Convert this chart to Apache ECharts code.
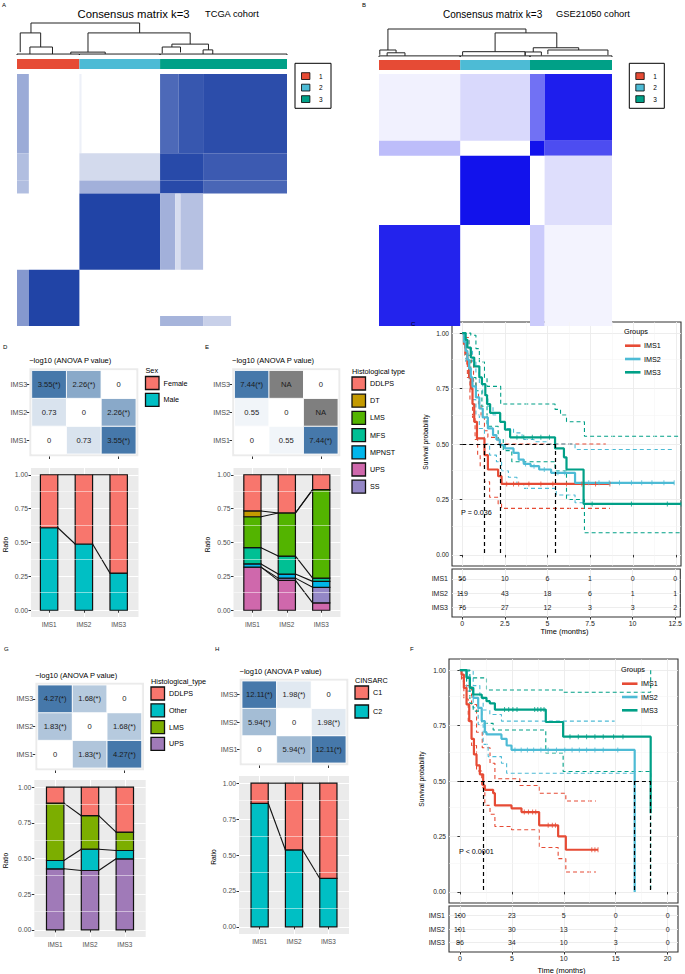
<!DOCTYPE html>
<html>
<head>
<meta charset="utf-8">
<title>Consensus clustering and immune subtypes</title>
<script src="https://cdn.jsdelivr.net/npm/echarts@6.0.0/dist/echarts.min.js"></script>
<style>
html,body{margin:0;padding:0;background:#ffffff;}
#chart{width:685px;height:974px;}
</style>
</head>
<body>
<div id="chart"></div>
<script>
// ======================= DATA =======================
const groups = ['IMS1', 'IMS2', 'IMS3'];
const groupColors = ['#E64B35', '#4DBBD5', '#00A087'];
const clusterLabels = ['1', '2', '3'];

// ---- A: TCGA consensus matrix (k = 3) ----
const tcgaSampleCount = 251;
const tcgaClusterEdges = [0, 58, 133, 251];
// [colStart, colEnd, rowStart, rowEnd, consensus]
const tcgaBlocks = [
  [0, 11, 0, 79, 0.45], [58, 60, 0, 79, 0.08], [133, 150, 0, 79, 0.8], [150, 173, 0, 79, 0.9], [173, 251, 0, 79, 0.95],
  [0, 11, 79, 106, 0.35], [58, 133, 79, 106, 0.2], [133, 173, 79, 106, 0.97], [173, 251, 79, 106, 0.88],
  [0, 11, 106, 119, 0.35], [58, 133, 106, 119, 0.42], [133, 173, 106, 119, 0.97], [173, 251, 106, 119, 0.82],
  [58, 133, 119, 195, 1.0], [133, 147, 119, 195, 0.42], [147, 152, 119, 195, 0.18], [152, 173, 119, 195, 0.33],
  [0, 11, 195, 251, 0.55], [11, 58, 195, 251, 1.0], [133, 173, 241, 251, 0.4], [173, 199, 241, 251, 0.25]
];
// [leftX, rightX, height, leftChildHeight, rightChildHeight]
const tcgaDendrogram = [
  [13, 114, 1.0, 0.69, 0.69], [3, 22, 0.69, 0.09, 0.25], [12, 33, 0.25, 0.03, 0.03],
  [66, 161, 0.69, 0.09, 0.34], [50, 82, 0.09, 0.03, 0.03], [144, 178, 0.34, 0.25, 0.16],
  [135, 152, 0.25, 0.05, 0.08], [173, 182, 0.16, 0.03, 0.03],
  [0, 58, 0.03, 0, 0], [58, 133, 0.03, 0, 0], [133, 251, 0.03, 0, 0]
];

// ---- B: GSE21050 consensus matrix (k = 3) ----
const gseSampleCount = 287;
const gseClusterEdges = [0, 100, 186, 287];
const gseBlocks = [
  [0, 100, 0, 76, 0.06], [100, 186, 0, 76, 0.16], [186, 204, 0, 76, 0.6], [204, 287, 0, 76, 0.95],
  [0, 100, 76, 93, 0.28], [186, 204, 76, 93, 1.0], [204, 287, 76, 93, 0.75],
  [100, 186, 93, 172, 1.0], [204, 287, 93, 172, 0.14],
  [0, 100, 172, 287, 0.93], [186, 204, 172, 287, 0.22], [204, 287, 172, 287, 0.05]
];
const gseDendrogram = [
  [11, 181, 1.0, 0.25, 0.86], [1, 21, 0.25, 0.08, 0.15], [10, 32, 0.15, 0.04, 0.04],
  [143, 219, 0.86, 0.19, 0.33], [103, 180, 0.19, 0.05, 0.05], [190, 246, 0.33, 0.18, 0.25],
  [180, 200, 0.18, 0.05, 0.05], [208, 282, 0.25, 0.1, 0.07],
  [0, 100, 0.04, 0, 0], [100, 186, 0.04, 0, 0], [186, 287, 0.04, 0, 0]
];

// ---- D: Sex (TCGA) ----
const sexLevels = ['Female', 'Male'];
const sexColors = ['#F8766D', '#00BFC4'];
const sexFemale = [0.391, 0.511, 0.726];
const sexMale = [0.609, 0.489, 0.274];
const sexStackOrder = ['Male', 'Female'];
const sexAnova = [[0, 0.73, 3.55], [0.73, 0, 2.26], [3.55, 2.26, 0]]; // rows IMS1..IMS3

// ---- E: Histological type (TCGA) ----
const histLevels = ['DDLPS', 'DT', 'LMS', 'MFS', 'MPNST', 'UPS', 'SS'];
const histColors = ['#F8766D', '#C49A00', '#53B400', '#00C094', '#00B6EB', '#CF68AC', '#9487C6'];
const histDDLPS = [0.267, 0.282, 0.110];
const histDT = [0.043, 0, 0];
const histLMS = [0.228, 0.318, 0.653];
const histMFS = [0.120, 0.133, 0.024];
const histMPNST = [0.024, 0.030, 0.044];
const histUPS = [0.318, 0.220, 0.054];
const histSS = [0, 0.017, 0.115];
const histStackOrder = ['UPS', 'SS', 'MPNST', 'MFS', 'LMS', 'DT', 'DDLPS'];
const histAnova = [[0, 0.55, 7.44], [0.55, 0, null], [7.44, null, 0]];

// ---- G: Histological type (GSE21050) ----
const gseHistLevels = ['DDLPS', 'Other', 'LMS', 'UPS'];
const gseHistColors = ['#F8766D', '#00BFC4', '#7CAE00', '#A07AB8'];
const gseHistDDLPS = [0.112, 0.200, 0.315];
const gseHistOther = [0.058, 0.149, 0.058];
const gseHistLMS = [0.402, 0.235, 0.129];
const gseHistUPS = [0.428, 0.416, 0.498];
const gseHistStackOrder = ['UPS', 'Other', 'LMS', 'DDLPS'];
const gseHistAnova = [[0, 1.83, 4.27], [1.83, 0, 1.68], [4.27, 1.68, 0]];

// ---- H: CINSARC (GSE21050) ----
const cinsarcLevels = ['C1', 'C2'];
const cinsarcColors = ['#F8766D', '#00BFC4'];
const cinsarcC1 = [0.140, 0.465, 0.663];
const cinsarcC2 = [0.860, 0.535, 0.337];
const cinsarcStackOrder = ['C2', 'C1'];
const cinsarcAnova = [[0, 5.94, 12.11], [5.94, 0, 1.98], [12.11, 1.98, 0]];

const ratioTicks = [0, 0.25, 0.5, 0.75, 1];
const survTicks = [0, 0.25, 0.5, 0.75, 1];

// ---- C: Kaplan-Meier, TCGA ----
const tcgaIMS1Time = [0, 0.1, 0.2, 0.3, 0.4, 0.5, 0.6, 0.7, 0.86, 1.3, 1.5, 2.1, 2.3, 8.64];
const tcgaIMS1Surv = [1, 0.95, 0.91, 0.86, 0.80, 0.75, 0.68, 0.60, 0.525, 0.45, 0.385, 0.355, 0.32, 0.32];
const tcgaIMS1UpTime = [0, 0.2, 0.4, 0.55, 0.66, 0.8, 0.95, 1.1, 1.3, 1.5, 2.1, 8.4];
const tcgaIMS1Up = [1, 0.98, 0.93, 0.86, 0.78, 0.73, 0.68, 0.62, 0.56, 0.53, 0.50, 0.50];
const tcgaIMS1LoTime = [0, 0.15, 0.3, 0.45, 0.6, 0.75, 0.9, 1.05, 1.3, 1.6, 2.1, 2.3, 8.64];
const tcgaIMS1Lo = [1, 0.9, 0.8, 0.7, 0.62, 0.52, 0.45, 0.40, 0.33, 0.26, 0.23, 0.21, 0.21];
const tcgaIMS1Censor = [2.6, 3.0, 3.3, 3.9, 4.6, 5.3, 6.1, 7.0, 7.8, 8.64];

const tcgaIMS2Time = [0, 0.1, 0.2, 0.3, 0.4, 0.5, 0.6, 0.8, 1.0, 1.2, 1.5, 1.8, 2.0, 2.2, 2.5, 3.0, 3.3, 3.6, 4.0, 4.5, 5.2, 6.6, 12.4];
const tcgaIMS2Surv = [1, 0.96, 0.92, 0.88, 0.84, 0.80, 0.76, 0.71, 0.66, 0.62, 0.57, 0.54, 0.52, 0.495, 0.48, 0.46, 0.43, 0.41, 0.40, 0.385, 0.37, 0.325, 0.325];
const tcgaIMS2UpTime = [0, 0.2, 0.4, 0.6, 0.8, 1.0, 1.2, 1.5, 1.8, 2.2, 2.5, 3.0, 3.5, 4.2, 5.0, 6.6, 12.4];
const tcgaIMS2Up = [1, 0.97, 0.93, 0.87, 0.82, 0.77, 0.72, 0.67, 0.63, 0.60, 0.57, 0.55, 0.52, 0.51, 0.50, 0.475, 0.475];
const tcgaIMS2LoTime = [0, 0.2, 0.4, 0.6, 0.8, 1.0, 1.3, 1.6, 2.0, 2.3, 2.7, 3.2, 3.6, 5.5, 6.6, 7.1];
const tcgaIMS2Lo = [1, 0.87, 0.78, 0.70, 0.63, 0.57, 0.50, 0.45, 0.42, 0.38, 0.35, 0.32, 0.30, 0.27, 0.235, 0.235];
const tcgaIMS2Censor = [3.7, 4.2, 4.8, 5.6, 6.0, 7.4, 8.0, 8.6, 9.2, 9.9, 10.5, 11.1, 11.8, 12.4];

const tcgaIMS3Time = [0, 0.2, 0.3, 0.5, 0.7, 1.0, 1.15, 1.35, 1.45, 1.63, 2.22, 2.5, 2.8, 5.43, 5.95, 6.1, 7.1, 12.8];
const tcgaIMS3Surv = [1, 0.97, 0.935, 0.89, 0.85, 0.80, 0.77, 0.72, 0.68, 0.64, 0.60, 0.565, 0.53, 0.48, 0.44, 0.385, 0.23, 0.23];
const tcgaIMS3UpTime = [0, 0.5, 0.8, 1.0, 1.3, 1.45, 2.25, 5.43, 5.75, 6.1, 7.15, 12.8];
const tcgaIMS3Up = [1, 0.99, 0.93, 0.87, 0.80, 0.76, 0.68, 0.656, 0.63, 0.60, 0.535, 0.535];
const tcgaIMS3LoTime = [0, 0.2, 0.5, 0.8, 1.15, 1.45, 2.1, 2.4, 2.9, 5.43, 6.1, 7.15, 12.8];
const tcgaIMS3Lo = [1, 0.9, 0.8, 0.74, 0.67, 0.58, 0.52, 0.47, 0.42, 0.38, 0.25, 0.10, 0.10];
const tcgaIMS3Censor = [3.2, 3.6, 4.1, 4.6, 5.1, 7.6, 9.9, 12.0, 12.8];

const tcgaMedians = [1.30, 2.20, 5.43];
const tcgaPLabel = 'P = 0.036';
const tcgaTimeTicks = [0, 2.5, 5, 7.5, 10, 12.5];
const tcgaRiskIMS1 = [56, 10, 6, 1, 0, 0];
const tcgaRiskIMS2 = [119, 43, 18, 6, 1, 1];
const tcgaRiskIMS3 = [76, 27, 12, 3, 3, 2];

// ---- F: Kaplan-Meier, GSE21050 ----
const gseIMS1Time = [0, 0.16, 0.38, 0.64, 0.9, 1.12, 1.35, 1.6, 1.92, 2.24, 2.4, 3.2, 3.37, 4.97, 5.93, 7.63, 9.46, 10.2, 13.3];
const gseIMS1Surv = [1, 0.98, 0.92, 0.845, 0.77, 0.69, 0.62, 0.57, 0.53, 0.48, 0.46, 0.445, 0.39, 0.377, 0.36, 0.30, 0.25, 0.19, 0.19];
const gseIMS1UpTime = [0, 0.16, 0.38, 1.12, 1.6, 2.15, 2.9, 3.37, 5.77, 7.63, 10.2, 13.1];
const gseIMS1Up = [1, 0.965, 0.93, 0.845, 0.72, 0.65, 0.58, 0.51, 0.48, 0.445, 0.41, 0.41];
const gseIMS1LoTime = [0, 0.16, 0.38, 0.8, 1.12, 1.6, 2.1, 2.4, 2.9, 3.37, 4.97, 7.63, 9.46, 10.2, 13.1];
const gseIMS1Lo = [1, 0.95, 0.87, 0.77, 0.66, 0.545, 0.47, 0.39, 0.35, 0.295, 0.28, 0.20, 0.15, 0.09, 0.09];
const gseIMS1Censor = [6.2, 6.6, 7.0, 7.3, 8.5, 8.9, 9.2, 12.7, 13.0, 13.3];

const gseIMS2Time = [0, 0.32, 0.64, 0.96, 1.28, 1.76, 2.1, 2.4, 2.56, 4.0, 4.5, 4.97, 16.83];
const gseIMS2Surv = [1, 1.0, 0.97, 0.92, 0.875, 0.83, 0.77, 0.72, 0.71, 0.69, 0.66, 0.64, 0];
const gseIMS2UpTime = [0, 0.32, 1.28, 1.92, 2.24, 2.88, 4.0, 14.9];
const gseIMS2Up = [1, 0.995, 0.93, 0.88, 0.82, 0.80, 0.77, 0.77];
const gseIMS2LoTime = [0, 0.64, 1.28, 1.76, 2.24, 2.72, 4.0, 4.5, 16.83];
const gseIMS2Lo = [1, 0.905, 0.83, 0.755, 0.665, 0.61, 0.58, 0.535, 0.535];
const gseIMS2Censor = [5.3, 5.9, 6.5, 7.1, 7.8, 8.5, 9.3, 10.1, 10.8, 11.5, 12.2, 13.0, 13.8, 15.2];

const gseIMS3Time = [0, 0.64, 0.96, 1.28, 2.1, 2.56, 2.88, 3.37, 8.27, 9.94, 18.37];
const gseIMS3Surv = [1, 0.965, 0.92, 0.89, 0.875, 0.86, 0.85, 0.822, 0.766, 0.70, 0.355];
const gseIMS3UpTime = [0, 0.96, 2.56, 9.94, 18.37];
const gseIMS3Up = [1, 0.965, 0.91, 0.90, 1.0];
const gseIMS3LoTime = [0, 0.64, 0.96, 1.28, 2.1, 3.2, 8.27, 9.94, 18.37];
const gseIMS3Lo = [1, 0.95, 0.85, 0.815, 0.76, 0.73, 0.626, 0.543, 0];
const gseIMS3Censor = [4.3, 4.7, 5.1, 5.5, 7.2, 7.5, 7.8, 8.1, 10.6, 11.4, 12.2, 13.0, 13.8, 14.8, 15.7];

const gseMedians = [2.24, 16.83, 18.37];
const gsePLabel = 'P < 0.0001';
const gseTimeTicks = [0, 5, 10, 15, 20];
const gseRiskIMS1 = [100, 23, 5, 0, 0];
const gseRiskIMS2 = [101, 30, 13, 2, 0];
const gseRiskIMS3 = [86, 34, 10, 3, 0];

// ======================= BUILD =======================
const FONT = "'Liberation Sans', Arial, Helvetica, sans-serif";
const option = {
  animation: false, backgroundColor: '#ffffff', textStyle: { fontFamily: FONT },
  grid: [], xAxis: [], yAxis: [], series: [], graphic: []
};
const G = option.graphic;

function addGrid(grid, xAxis, yAxis) {
  const i = option.grid.length;
  option.grid.push(Object.assign({ containLabel: false }, grid));
  xAxis.gridIndex = i; yAxis.gridIndex = i;
  option.xAxis.push(xAxis); option.yAxis.push(yAxis);
  return i;
}
function hiddenAxis(min, max, extra) { return Object.assign({ type: 'value', min: min, max: max, show: false }, extra || {}); }
function tstyle(text, size, align, valign, fill) {
  return { text: text, font: size + 'px ' + FONT, fill: fill || '#000',
    align: align || 'left', textAlign: align || 'left',
    verticalAlign: valign || 'middle', textVerticalAlign: valign || 'middle' };
}
function addText(x, y, text, size, opts) {
  opts = opts || {};
  G.push({ type: 'text', x: x, y: y, rotation: opts.rotation || 0, z: 100, silent: true,
    style: tstyle(text, size, opts.align, opts.valign, opts.fill) });
}
function addRect(x, y, w, h, fill, stroke, lw, z) {
  G.push({ type: 'rect', z: z == null ? 100 : z, silent: true, shape: { x: x, y: y, width: w, height: h },
    style: { fill: fill || 'none', stroke: stroke || null, lineWidth: lw || 0 } });
}
function addLine(x1, y1, x2, y2, stroke, lw) {
  G.push({ type: 'line', z: 100, silent: true, shape: { x1: x1, y1: y1, x2: x2, y2: y2 }, style: { stroke: stroke, lineWidth: lw } });
}
function mix(base, t) {
  return 'rgb(' + base.map(function (c) { return Math.round(255 - (255 - c) * t); }).join(',') + ')';
}

// ---------- consensus matrix panels ----------
function consensusPanel(cfg) {
  const hm = addGrid({ left: cfg.left, top: cfg.top, width: cfg.width, height: cfg.height },
    hiddenAxis(0, cfg.n), hiddenAxis(0, cfg.n, { inverse: true }));
  option.series.push({ type: 'custom', xAxisIndex: hm, yAxisIndex: hm, silent: true, data: cfg.blocks,
    renderItem: function (p, api) {
      const a = api.coord([api.value(0), api.value(2)]), b = api.coord([api.value(1), api.value(3)]);
      return { type: 'rect', shape: { x: Math.min(a[0], b[0]), y: Math.min(a[1], b[1]), width: Math.abs(b[0] - a[0]), height: Math.abs(b[1] - a[1]) },
        style: { fill: mix(cfg.base, api.value(4)) } };
    } });
  const an = addGrid({ left: cfg.left, top: cfg.annTop, width: cfg.width, height: cfg.annHeight },
    hiddenAxis(0, cfg.n), hiddenAxis(0, 1));
  const annData = cfg.edges.slice(0, -1).map(function (e, i) { return [e, cfg.edges[i + 1], i]; });
  option.series.push({ type: 'custom', xAxisIndex: an, yAxisIndex: an, silent: true, data: annData,
    renderItem: function (p, api) {
      const a = api.coord([api.value(0), 1]), b = api.coord([api.value(1), 0]);
      return { type: 'rect', shape: { x: a[0], y: a[1], width: b[0] - a[0], height: b[1] - a[1] },
        style: { fill: groupColors[api.value(2)] } };
    } });
  const dg = addGrid({ left: cfg.left, top: cfg.dTop, width: cfg.width, height: cfg.dHeight },
    hiddenAxis(0, cfg.n), hiddenAxis(0, 1));
  option.series.push({ type: 'custom', xAxisIndex: dg, yAxisIndex: dg, silent: true, data: cfg.dendro,
    renderItem: function (p, api) {
      const xl = api.value(0), xr = api.value(1), h = api.value(2), hl = api.value(3), hr = api.value(4);
      return { type: 'polyline', shape: { points: [api.coord([xl, hl]), api.coord([xl, h]), api.coord([xr, h]), api.coord([xr, hr])] },
        style: { stroke: '#222', lineWidth: 1, fill: null } };
    } });
  // legend box
  addRect(cfg.legX, 63.3, cfg.legW, 45, 'none', '#000', 1);
  clusterLabels.forEach(function (lab, i) {
    addRect(cfg.legX + 6.5, 72.7 + i * 11.5, 8.4, 6.8, groupColors[i], '#000', 0.8);
    addText(cfg.legX + 24, 76.1 + i * 11.5, lab, 6.5);
  });
}

consensusPanel({ left: 17, top: 74, width: 270, height: 252, n: tcgaSampleCount, blocks: tcgaBlocks, base: [33, 68, 166],
  annTop: 59, annHeight: 10, edges: tcgaClusterEdges, dTop: 23, dHeight: 32, dendro: tcgaDendrogram, legX: 295, legW: 36 });
consensusPanel({ left: 379, top: 74, width: 233, height: 252, n: gseSampleCount, blocks: gseBlocks, base: [18, 18, 236],
  annTop: 60, annHeight: 10, edges: gseClusterEdges, dTop: 29, dHeight: 28, dendro: gseDendrogram, legX: 629.3, legW: 35 });

addText(2, 5, 'A', 6);
addText(133.5, 14, 'Consensus matrix k=3', 11.3, { align: 'center' });
addText(205, 14, 'TCGA cohort', 9.3);
addText(362, 5, 'B', 6);
addText(443, 14, 'Consensus matrix k=3', 10);
addText(556, 14, 'GSE21050 cohort', 9.3);

// ---------- ANOVA heatmaps ----------
function anovaLabel(v) {
  if (v === null) return 'NA';
  if (v === 0) return '0';
  return v > 1.301 ? v.toFixed(2) + '(*)' : v.toFixed(2);
}
function anovaPanel(cfg) {
  const flat = [].concat.apply([], cfg.matrix).filter(function (v) { return v !== null; });
  const vmax = Math.max.apply(null, flat);
  addRect(cfg.left - 2.3, cfg.top - 2.3, cfg.width + 4.6, cfg.height + 4.6, '#EBEBEB', null, 0, 0);
  const tick = { show: true, alignWithLabel: true, length: 2.5, lineStyle: { color: '#333', width: 1 } };
  const gi = addGrid({ left: cfg.left, top: cfg.top, width: cfg.width, height: cfg.height },
    { type: 'category', data: groups, offset: 2.5, axisLine: { show: false }, axisTick: tick, axisLabel: { show: false }, splitLine: { show: false } },
    { type: 'category', data: groups, offset: 2.5, axisLine: { show: false }, axisTick: tick,
      axisLabel: { fontSize: 7.2, color: '#4D4D4D', margin: 2, fontFamily: FONT }, splitLine: { show: false } });
  const cells = [];
  cfg.matrix.forEach(function (row, r) { row.forEach(function (v, c) { cells.push([c, r]); }); });
  option.series.push({ type: 'custom', xAxisIndex: gi, yAxisIndex: gi, silent: true, z: 3, data: cells,
    renderItem: function (p, api) {
      const c = api.value(0), r = api.value(1);
      const v = cfg.matrix[r][c];
      const pt = api.coord([c, r]), sz = api.size([1, 1]);
      const fill = v === null ? '#7F7F7F' : mix([70, 120, 170], v / vmax);
      return { type: 'group', children: [
        { type: 'rect', shape: { x: pt[0] - sz[0] / 2, y: pt[1] - sz[1] / 2, width: sz[0], height: sz[1] },
          style: { fill: fill, stroke: '#ffffff', lineWidth: 0.8 } },
        { type: 'text', x: pt[0], y: pt[1], style: tstyle(anovaLabel(v), 7.6, 'center', 'middle', '#1a1a1a') }
      ] };
    } });
  addText(cfg.left - 2.5, cfg.top - 10, '\u2212log10 (ANOVA P value)', 7.5);
}

// ---------- ratio (stacked bar) panels ----------
function ratioPanel(cfg) {
  const gi = addGrid({ left: cfg.left, top: cfg.top, width: cfg.width, height: cfg.height, show: true, backgroundColor: '#EBEBEB', borderWidth: 0 },
    { type: 'value', min: cfg.xmin, max: cfg.xmax, axisLine: { show: false },
      axisTick: { show: true, customValues: [1, 2, 3], length: 2.5, lineStyle: { color: '#333', width: 1 } },
      axisLabel: { show: true, customValues: [1, 2, 3], formatter: function (v) { return groups[Math.round(v) - 1]; }, fontSize: 6.4, color: '#4D4D4D', margin: 4, fontFamily: FONT },
      splitLine: { show: true, lineStyle: { color: '#ffffff', width: 1.1 } } },
    { type: 'value', min: -0.05, max: 1.05, axisLine: { show: false },
      axisTick: { show: true, customValues: ratioTicks, length: 2.5, lineStyle: { color: '#333', width: 1 } },
      axisLabel: { show: true, customValues: ratioTicks, formatter: function (v) { return v.toFixed(2); }, fontSize: 6.8, color: '#4D4D4D', margin: 3, fontFamily: FONT },
      splitLine: { show: true, lineStyle: { color: '#ffffff', width: 1.1 } } });
  option.series.push({ type: 'line', xAxisIndex: gi, yAxisIndex: gi, data: [], z: 1, silent: true,
    markLine: { silent: true, animation: false, symbol: ['none', 'none'], label: { show: false },
      lineStyle: { color: '#ffffff', width: 0.5, type: 'solid' },
      data: [0.125, 0.375, 0.625, 0.875].map(function (v) { return { yAxis: v }; }) } });
  const rects = [], links = [];
  for (let c = 0; c < 3; c++) {
    let cum = 0;
    cfg.stack.forEach(function (name) {
      const v = cfg.values[name][c];
      if (v > 0) rects.push([c + 1, cum, cum + v, cfg.levels.indexOf(name)]);
      cum += v;
    });
  }
  for (let c = 0; c < 2; c++) {
    let a = 0, b = 0;
    cfg.stack.forEach(function (name) {
      a += cfg.values[name][c]; b += cfg.values[name][c + 1];
      links.push([c + 1, a, b]);
    });
  }
  option.series.push({ type: 'custom', xAxisIndex: gi, yAxisIndex: gi, silent: true, z: 3, data: rects,
    renderItem: function (p, api) {
      const x = api.value(0);
      const a = api.coord([x - 0.25, api.value(2)]), b = api.coord([x + 0.25, api.value(1)]);
      return { type: 'rect', shape: { x: a[0], y: a[1], width: b[0] - a[0], height: b[1] - a[1] },
        style: { fill: cfg.colors[api.value(3)], stroke: '#111', lineWidth: 1.2 } };
    } });
  option.series.push({ type: 'custom', xAxisIndex: gi, yAxisIndex: gi, silent: true, z: 4, data: links,
    renderItem: function (p, api) {
      const x = api.value(0);
      const a = api.coord([x + 0.25, api.value(1)]), b = api.coord([x + 0.75, api.value(2)]);
      return { type: 'line', shape: { x1: a[0], y1: a[1], x2: b[0], y2: b[1] }, style: { stroke: '#111', lineWidth: 1.1 } };
    } });
  addText(cfg.ratioX, cfg.top + cfg.height / 2 + 2, 'Ratio', 6.6, { rotation: Math.PI / 2, align: 'center' });
}
function legendBlock(x, y, title, levels, colors, step) {
  addText(x, y, title, 7.3);
  levels.forEach(function (lab, i) {
    addRect(x, y + 6 + i * step, 13.5, 13, colors[i], '#111', 1.3);
    addText(x + 18, y + 12.5 + i * step, lab, 7.2);
  });
}

// D
anovaPanel({ left: 31.7, top: 370.5, width: 104.3, height: 83.5, matrix: sexAnova });
ratioPanel({ left: 31, top: 468, width: 107.5, height: 149, xmin: 0.48, xmax: 3.57,
  levels: sexLevels, colors: sexColors, values: { Female: sexFemale, Male: sexMale }, stack: sexStackOrder, ratioX: 5 });
legendBlock(145.5, 370.5, 'Sex', sexLevels, sexColors, 16.8);
addText(3, 347, 'D', 6);

// E
anovaPanel({ left: 234.5, top: 370.5, width: 103.5, height: 83.5, matrix: histAnova });
ratioPanel({ left: 233.5, top: 468, width: 107, height: 149, xmin: 0.45, xmax: 3.56,
  levels: histLevels, colors: histColors,
  values: { DDLPS: histDDLPS, DT: histDT, LMS: histLMS, MFS: histMFS, MPNST: histMPNST, UPS: histUPS, SS: histSS },
  stack: histStackOrder, ratioX: 207.5 });
legendBlock(352, 371, 'Histological type', histLevels, histColors, 17.2);
addText(205, 347, 'E', 6);

// G
anovaPanel({ left: 37.7, top: 685, width: 104, height: 83, matrix: gseHistAnova });
ratioPanel({ left: 34.3, top: 780, width: 111.4, height: 157, xmin: 0.4, xmax: 3.6,
  levels: gseHistLevels, colors: gseHistColors,
  values: { DDLPS: gseHistDDLPS, Other: gseHistOther, LMS: gseHistLMS, UPS: gseHistUPS },
  stack: gseHistStackOrder, ratioX: 5 });
legendBlock(151, 681, 'Histological_type', gseHistLevels, gseHistColors, 16.8);
addText(4, 649, 'G', 6);

// H
anovaPanel({ left: 242, top: 681, width: 104, height: 82, matrix: cinsarcAnova });
ratioPanel({ left: 239, top: 776, width: 110, height: 158, xmin: 0.4, xmax: 3.6,
  levels: cinsarcLevels, colors: cinsarcColors, values: { C1: cinsarcC1, C2: cinsarcC2 },
  stack: cinsarcStackOrder, ratioX: 213 });
legendBlock(355, 680, 'CINSARC', cinsarcLevels, cinsarcColors, 19);
addText(215, 649, 'H', 6);

// ---------- Kaplan-Meier panels ----------
function stepValue(times, surv, t) {
  let v = surv[0];
  for (let i = 0; i < times.length; i++) { if (times[i] <= t + 1e-9) v = surv[i]; }
  return v;
}
function zip(a, b) { return a.map(function (t, i) { return [t, b[i]]; }); }
function kmPanel(cfg) {
  const gl = { show: true, lineStyle: { color: '#EBEBEB', width: 0.9 } };
  const gi = addGrid({ left: cfg.left, top: cfg.top, width: cfg.width, height: cfg.height, show: true, backgroundColor: '#ffffff', borderColor: '#333', borderWidth: 1.1 },
    { type: 'value', min: cfg.xmin, max: cfg.xmax, axisLine: { show: false },
      axisTick: { show: true, customValues: cfg.xticks, length: 2.5, lineStyle: { color: '#333' } },
      axisLabel: { show: false, customValues: cfg.xticks }, splitLine: gl },
    { type: 'value', min: -0.05, max: 1.05, axisLine: { show: false },
      axisTick: { show: true, customValues: survTicks, length: 2.5, lineStyle: { color: '#333' } },
      axisLabel: { customValues: survTicks, formatter: function (v) { return v.toFixed(2); }, fontSize: 6.6, color: '#222', margin: 3, fontFamily: FONT },
      splitLine: gl });
  option.series.push({ type: 'line', xAxisIndex: gi, yAxisIndex: gi, data: [], z: 1, silent: true,
    markLine: { silent: true, animation: false, symbol: ['none', 'none'], label: { show: false },
      lineStyle: { color: '#F2F2F2', width: 0.5, type: 'solid' },
      data: [0.125, 0.375, 0.625, 0.875].map(function (v) { return { yAxis: v }; })
        .concat(cfg.xminor.map(function (v) { return { xAxis: v }; })) } });
  cfg.curves.forEach(function (cv, g) {
    const col = groupColors[g];
    [[cv.upT, cv.up], [cv.loT, cv.lo]].forEach(function (ci) {
      option.series.push({ type: 'line', xAxisIndex: gi, yAxisIndex: gi, step: 'end', symbol: 'none', silent: true, z: 4,
        data: zip(ci[0], ci[1]), lineStyle: { color: col, width: 1.1, type: [4, 3] } });
    });
    option.series.push({ type: 'line', name: groups[g], xAxisIndex: gi, yAxisIndex: gi, step: 'end', symbol: 'none', silent: true, z: 5,
      data: zip(cv.t, cv.s), lineStyle: { color: col, width: 2.2 } });
    option.series.push({ type: 'scatter', xAxisIndex: gi, yAxisIndex: gi, silent: true, z: 6, symbol: 'rect', symbolSize: [1, 5],
      itemStyle: { color: col }, data: cv.censor.map(function (t) { return [t, stepValue(cv.t, cv.s, t)]; }) });
  });
  const mmax = Math.max.apply(null, cfg.medians);
  option.series.push({ type: 'lines', coordinateSystem: 'cartesian2d', xAxisIndex: gi, yAxisIndex: gi, silent: true, z: 7,
    lineStyle: { color: '#000', width: 1.2, type: [4, 3], opacity: 1, curveness: 0 },
    data: [{ coords: [[0, 0.5], [mmax, 0.5]] }].concat(cfg.medians.map(function (m) { return { coords: [[m, 0.5], [m, 0]] }; })) });

  // risk table
  const ri = addGrid({ left: cfg.left, top: cfg.riskTop, width: cfg.width, height: cfg.riskHeight, show: true, backgroundColor: '#ffffff', borderColor: '#333', borderWidth: 1.1 },
    { type: 'value', min: cfg.xmin, max: cfg.xmax, axisLine: { show: false },
      axisTick: { show: true, customValues: cfg.xticks, length: 2.5, lineStyle: { color: '#333' } },
      axisLabel: { customValues: cfg.xticks, formatter: function (v) { return String(v); }, fontSize: 7, color: '#222', margin: 3, fontFamily: FONT },
      splitLine: gl },
    { type: 'value', min: 0.3, max: 3.7, inverse: true, axisLine: { show: false },
      axisTick: { show: true, customValues: [1, 2, 3], length: 2.5, lineStyle: { color: '#333' } },
      axisLabel: { customValues: [1, 2, 3], formatter: function (v) { return groups[Math.round(v) - 1]; }, fontSize: 7, color: '#222', margin: 4, fontFamily: FONT },
      splitLine: gl });
  const riskData = [];
  cfg.risk.forEach(function (row, g) { row.forEach(function (n, j) { riskData.push([cfg.xticks[j], g + 1, n]); }); });
  option.series.push({ type: 'custom', xAxisIndex: ri, yAxisIndex: ri, silent: true, z: 5, data: riskData,
    renderItem: function (p, api) {
      const pt = api.coord([api.value(0), api.value(1)]);
      return { type: 'text', x: pt[0], y: pt[1], style: tstyle(String(api.value(2)), 7, 'center', 'middle', '#222') };
    } });

  // legend
  addText(cfg.legX, cfg.legY, 'Groups', 7.3);
  groups.forEach(function (name, i) {
    const yy = cfg.legY + 14.7 + i * 13.3;
    addLine(cfg.legX + 1, yy, cfg.legX + 16.5, yy, groupColors[i], 2.6);
    addText(cfg.legX + 20, yy, name, 7.2);
  });
  addText(cfg.pX, cfg.pY, cfg.pLabel, 7.2);
  addText(cfg.survX, cfg.top + cfg.height / 2 - 2, 'Survival probability', 6.6, { rotation: Math.PI / 2, align: 'center' });
  addText(cfg.left + cfg.width / 2 - 2, cfg.timeY, 'Time (months)', 7.5, { align: 'center' });
}

kmPanel({ left: 452, top: 322, width: 229, height: 244, xmin: -0.6, xmax: 12.8, xticks: tcgaTimeTicks,
  xminor: [1.25, 3.75, 6.25, 8.75, 11.25],
  curves: [
    { t: tcgaIMS1Time, s: tcgaIMS1Surv, upT: tcgaIMS1UpTime, up: tcgaIMS1Up, loT: tcgaIMS1LoTime, lo: tcgaIMS1Lo, censor: tcgaIMS1Censor },
    { t: tcgaIMS2Time, s: tcgaIMS2Surv, upT: tcgaIMS2UpTime, up: tcgaIMS2Up, loT: tcgaIMS2LoTime, lo: tcgaIMS2Lo, censor: tcgaIMS2Censor },
    { t: tcgaIMS3Time, s: tcgaIMS3Surv, upT: tcgaIMS3UpTime, up: tcgaIMS3Up, loT: tcgaIMS3LoTime, lo: tcgaIMS3Lo, censor: tcgaIMS3Censor }
  ],
  medians: tcgaMedians, riskTop: 569, riskHeight: 48, risk: [tcgaRiskIMS1, tcgaRiskIMS2, tcgaRiskIMS3],
  legX: 624, legY: 331, pX: 461, pY: 512, pLabel: tcgaPLabel, survX: 425, timeY: 631 });
addText(411, 324, 'C', 6);

kmPanel({ left: 449, top: 659, width: 229, height: 244, xmin: -1.05, xmax: 21, xticks: gseTimeTicks,
  xminor: [2.5, 7.5, 12.5, 17.5],
  curves: [
    { t: gseIMS1Time, s: gseIMS1Surv, upT: gseIMS1UpTime, up: gseIMS1Up, loT: gseIMS1LoTime, lo: gseIMS1Lo, censor: gseIMS1Censor },
    { t: gseIMS2Time, s: gseIMS2Surv, upT: gseIMS2UpTime, up: gseIMS2Up, loT: gseIMS2LoTime, lo: gseIMS2Lo, censor: gseIMS2Censor },
    { t: gseIMS3Time, s: gseIMS3Surv, upT: gseIMS3UpTime, up: gseIMS3Up, loT: gseIMS3LoTime, lo: gseIMS3Lo, censor: gseIMS3Censor }
  ],
  medians: gseMedians, riskTop: 906, riskHeight: 46, risk: [gseRiskIMS1, gseRiskIMS2, gseRiskIMS3],
  legX: 621, legY: 669, pX: 459, pY: 851, pLabel: gsePLabel, survX: 421, timeY: 970 });
addText(410, 649, 'F', 6);

const chart = echarts.init(document.getElementById('chart'), null, { renderer: 'svg', width: 685, height: 974 });
chart.setOption(option);
</script>
</body>
</html>
